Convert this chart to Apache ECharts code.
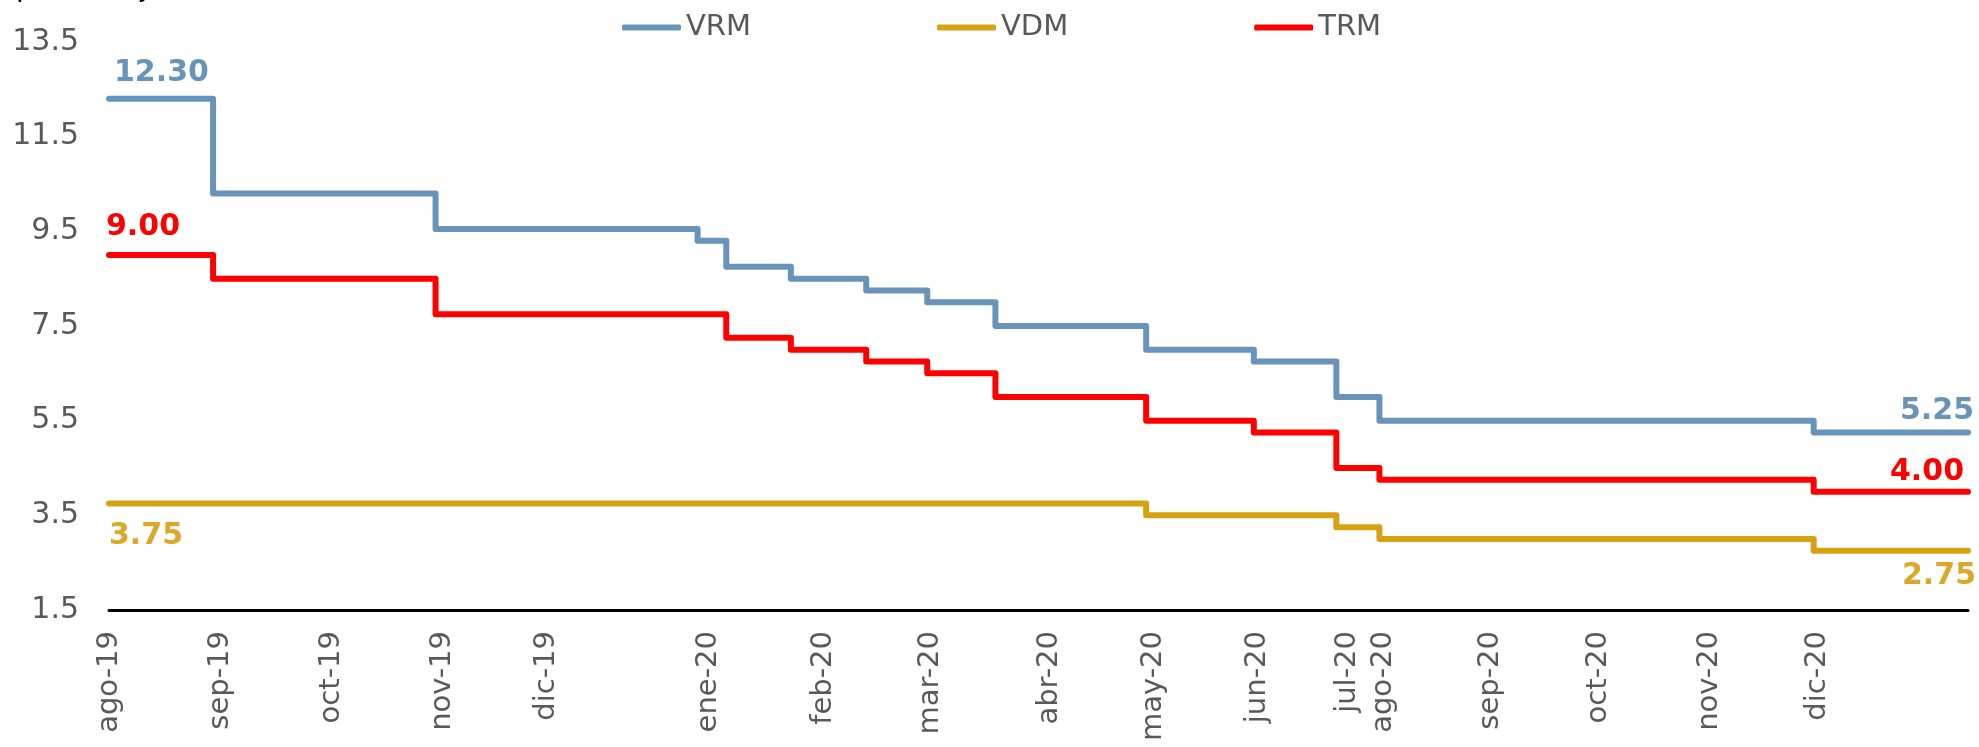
<!DOCTYPE html>
<html>
<head>
<meta charset="utf-8">
<script src="https://cdn.jsdelivr.net/npm/echarts@6.0.0/dist/echarts.min.js"></script>
<style>
  html, body { margin: 0; padding: 0; background: #fff; }
  #chart { width: 1979px; height: 747px; }
</style>
</head>
<body>
<div id="chart"></div>
<script>
// dias desde ago-19 en que cambia cada tasa (el ultimo punto cierra la serie)
const vrmDias = [0, 29, 91, 164, 172, 190, 211, 228, 247, 289, 319, 342, 354, 475, 518]
const vrmValores = [12.30, 10.30, 9.55, 9.30, 8.75, 8.50, 8.25, 8.00, 7.50, 7.00, 6.75, 6.00, 5.50, 5.25, 5.25]

const vdmDias = [0, 289, 342, 354, 475, 518]
const vdmValores = [3.75, 3.50, 3.25, 3.00, 2.75, 2.75]

const trmDias = [0, 29, 91, 172, 190, 211, 228, 247, 289, 319, 342, 354, 475, 518]
const trmValores = [9.00, 8.50, 7.75, 7.25, 7.00, 6.75, 6.50, 6.00, 5.50, 5.25, 4.50, 4.25, 4.00, 4.00]

// etiquetas del eje x y donde caen
const etiquetas = ['ago-19', 'sep-19', 'oct-19', 'nov-19', 'dic-19', 'ene-20', 'feb-20', 'mar-20', 'abr-20',
  'may-20', 'jun-20', 'jul-20', 'ago-20', 'sep-20', 'oct-20', 'nov-20', 'dic-20']
const etiquetaDias = [0, 31, 62, 93, 122, 167, 199, 229, 262, 291, 320, 345, 355, 385, 415, 446, 476]

const FONT = 'DejaVu Sans'
const GRIS = '#595959'

const chart = echarts.init(document.getElementById('chart'))

// puntos de la serie; solo el primero y el ultimo llevan rotulo
const buildData = (dias, valores, first, last) => dias.map((d, i) => {
  const item = { value: [d, valores[i]] }
  if (i === 0 && first) item.label = first
  if (i === dias.length - 1 && last) item.label = last
  return item
})

const rotulo = (color, position, align) => ({
  show: true,
  position: position,
  align: align,
  verticalAlign: 'middle',
  color: color,
  fontFamily: FONT,
  fontWeight: 'bold',
  fontSize: 30,
  formatter: p => p.value[1].toFixed(2)
})

const serie = (name, color, data) => ({
  name: name,
  type: 'line',
  step: 'end',
  symbol: 'circle',
  symbolSize: 0,
  showSymbol: true,
  lineStyle: { color: color, width: 6, cap: 'round', join: 'round' },
  itemStyle: { color: color },
  data: data
})

const AZUL = '#6894b9'
const AMARILLO = '#d6a211'
const AMARILLO_TXT = '#dca82a'
const ROJO = '#ff0000'

const option = {
  animation: false,
  title: {
    text: '(porcentaje)',
    left: 0,
    top: -30,
    textStyle: { fontFamily: FONT, fontWeight: 'normal', fontSize: 28, color: '#000' }
  },
  legend: {
    left: 617,
    top: 8,
    icon: 'roundRect',
    itemWidth: 59,
    itemHeight: 6,
    itemGap: 186,
    textStyle: { fontFamily: FONT, fontSize: 29, color: GRIS },
    data: ['VRM', 'VDM', 'TRM']
  },
  grid: { left: 109, right: 11, top: 42, bottom: 137 },
  xAxis: {
    type: 'value',
    min: 0,
    max: 518,
    splitLine: { show: false },
    axisTick: { show: false },
    axisLine: { show: true, lineStyle: { color: '#000', width: 3 } },
    axisLabel: {
      customValues: etiquetaDias,
      rotate: 90,
      margin: 21,
      fontFamily: FONT,
      fontSize: 29,
      color: GRIS,
      formatter: v => etiquetas[etiquetaDias.indexOf(v)]
    }
  },
  yAxis: {
    type: 'value',
    min: 1.5,
    max: 13.5,
    interval: 2,
    splitLine: { show: false },
    axisTick: { show: false },
    axisLine: { show: false },
    axisLabel: {
      margin: 30,
      padding: [7, 0, 0, 0],
      fontFamily: FONT,
      fontSize: 30,
      color: GRIS,
      formatter: v => v.toFixed(1)
    }
  },
  series: [
    serie('VRM', AZUL, buildData(vrmDias, vrmValores,
      rotulo(AZUL, [5, -26], 'left'), rotulo(AZUL, [6, -21], 'right'))),
    serie('VDM', AMARILLO, buildData(vdmDias, vdmValores,
      rotulo(AMARILLO_TXT, [0, 33], 'left'), rotulo(AMARILLO_TXT, [8, 25], 'right'))),
    serie('TRM', ROJO, buildData(trmDias, trmValores,
      rotulo(ROJO, [-3, -28], 'left'), rotulo(ROJO, [-4, -19], 'right')))
  ]
}

chart.setOption(option)
</script>
</body>
</html>
